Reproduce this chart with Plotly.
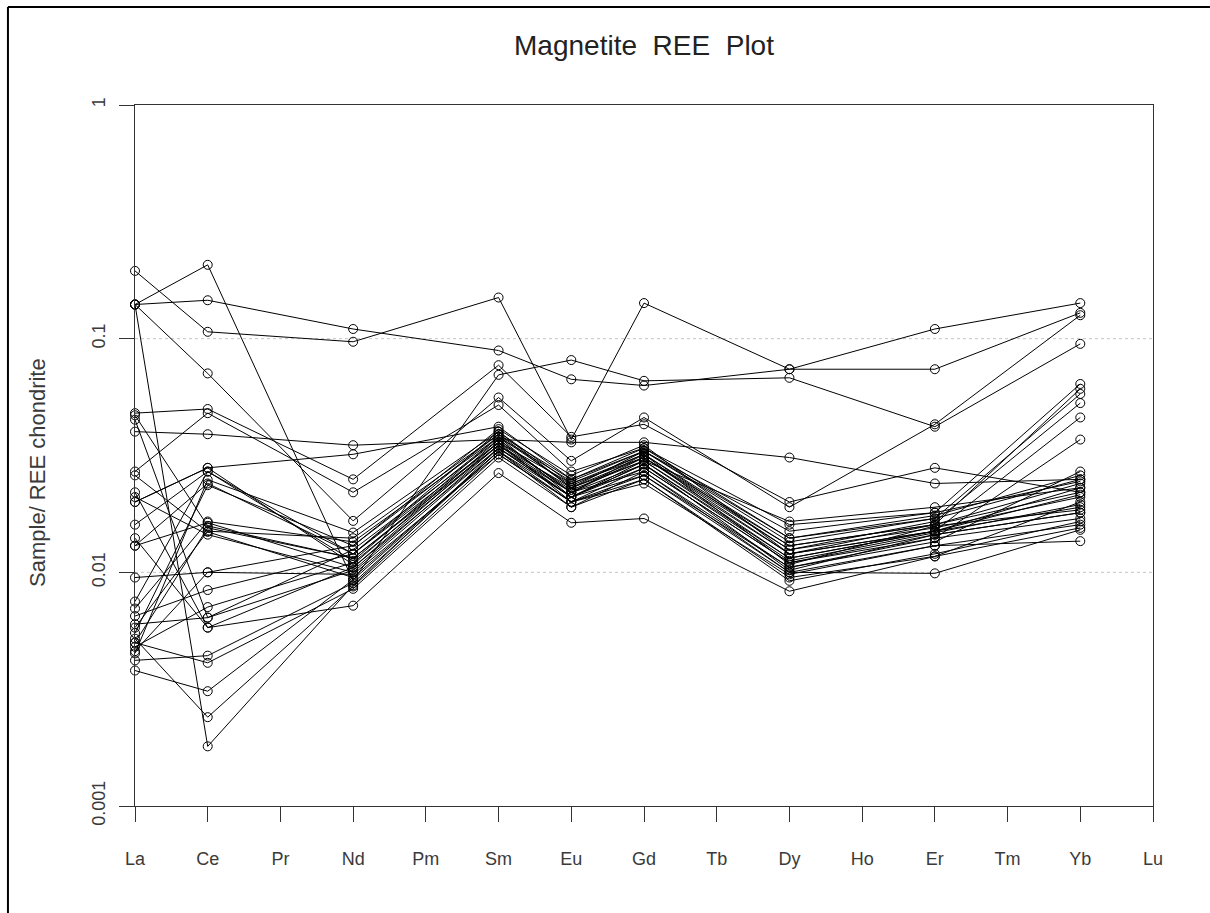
import plotly.graph_objects as go

elements = ["La", "Ce", "Pr", "Nd", "Pm", "Sm", "Eu", "Gd", "Tb", "Dy", "Ho", "Er", "Tm", "Yb", "Lu"]
measured = ["La", "Ce", "Nd", "Sm", "Eu", "Gd", "Dy", "Er", "Yb"]

# Chondrite-normalised values per sample (La, Ce, Nd, Sm, Eu, Gd, Dy, Er, Yb)
s01 = [0.140, 0.146, 0.110, 0.089, 0.067, 0.063, 0.074, 0.110, 0.142]
s02 = [0.195, 0.107, 0.097, 0.150, 0.037, 0.142, 0.074, 0.074, 0.129]
s03 = [0.140, 0.207, 0.0092, 0.070, 0.081, 0.066, 0.068, 0.042, 0.095]
s04 = [0.140, 0.071, 0.0166, 0.056, 0.030, 0.046, 0.019, 0.043, 0.126]
s05 = [0.140, 0.0018, 0.0088, 0.034, 0.022, 0.029, 0.0115, 0.015, 0.019]
s06 = [0.040, 0.039, 0.035, 0.037, 0.036, 0.036, 0.031, 0.024, 0.025]
s07 = [0.048, 0.050, 0.025, 0.077, 0.038, 0.043, 0.020, 0.028, 0.022]
s08 = [0.027, 0.048, 0.022, 0.052, 0.027, 0.034, 0.016, 0.018, 0.064]
s09 = [0.020, 0.028, 0.032, 0.042, 0.025, 0.033, 0.014, 0.017, 0.058]
s10 = [0.0045, 0.0249, 0.0148, 0.040, 0.024, 0.032, 0.013, 0.016, 0.061]
s11 = [0.0055, 0.0236, 0.013, 0.039, 0.023, 0.031, 0.0125, 0.0165, 0.053]
s12 = [0.016, 0.027, 0.012, 0.038, 0.021, 0.030, 0.012, 0.015, 0.046]
s13 = [0.013, 0.0163, 0.0105, 0.036, 0.020, 0.028, 0.011, 0.014, 0.037]
s14 = [0.047, 0.0158, 0.0115, 0.035, 0.022, 0.027, 0.0105, 0.0135, 0.027]
s15 = [0.026, 0.0149, 0.0095, 0.033, 0.019, 0.025, 0.0095, 0.0117, 0.020]
s16 = [0.021, 0.0145, 0.0100, 0.034, 0.021, 0.026, 0.010, 0.0099, 0.0152]
s17 = [0.0095, 0.0100, 0.0098, 0.032, 0.020, 0.024, 0.0098, 0.013, 0.0136]
s18 = [0.0065, 0.0084, 0.0120, 0.036, 0.024, 0.031, 0.012, 0.016, 0.024]
s19 = [0.0048, 0.0071, 0.0110, 0.035, 0.023, 0.030, 0.0115, 0.015, 0.023]
s20 = [0.0060, 0.0064, 0.0125, 0.037, 0.022, 0.032, 0.0125, 0.0155, 0.021]
s21 = [0.014, 0.0058, 0.0105, 0.034, 0.021, 0.028, 0.011, 0.0145, 0.018]
s22 = [0.0042, 0.0044, 0.0090, 0.033, 0.020, 0.026, 0.0105, 0.014, 0.017]
s23 = [0.0050, 0.0041, 0.0085, 0.031, 0.019, 0.027, 0.010, 0.013, 0.016]
s24 = [0.0038, 0.0031, 0.0093, 0.033, 0.021, 0.029, 0.0102, 0.0145, 0.018]
s25 = [0.0052, 0.0024, 0.0087, 0.032, 0.020, 0.025, 0.0092, 0.012, 0.0165]
s26 = [0.022, 0.0058, 0.0072, 0.0266, 0.0163, 0.017, 0.0083, 0.0117, 0.0155]
s27 = [0.0058, 0.0150, 0.0140, 0.039, 0.025, 0.034, 0.0140, 0.0175, 0.026]
s28 = [0.0070, 0.0165, 0.0135, 0.038, 0.0245, 0.033, 0.0135, 0.017, 0.025]
s29 = [0.013, 0.0240, 0.0120, 0.040, 0.023, 0.033, 0.0150, 0.018, 0.0245]
s30 = [0.0050, 0.0155, 0.0115, 0.036, 0.0225, 0.030, 0.0165, 0.0190, 0.023]
s31 = [0.020, 0.0280, 0.0108, 0.037, 0.022, 0.031, 0.0130, 0.0160, 0.022]
s32 = [0.045, 0.0064, 0.0102, 0.035, 0.021, 0.029, 0.0112, 0.0148, 0.0195]
s33 = [0.0046, 0.0100, 0.0130, 0.041, 0.026, 0.035, 0.0120, 0.0150, 0.0215]
s34 = [0.0075, 0.0270, 0.0112, 0.038, 0.0235, 0.032, 0.0108, 0.0158, 0.0185]

samples = [s01, s02, s03, s04, s05, s06, s07, s08, s09, s10, s11, s12, s13, s14, s15, s16, s17,
           s18, s19, s20, s21, s22, s23, s24, s25, s26, s27, s28, s29, s30, s31, s32, s33, s34]

y_ticks = [0.001, 0.01, 0.1, 1]
y_ticktext = ["0.001", "0.01", "0.1", "1"]
grid_levels = [0.1, 0.01]

xpos = [elements.index(e) for e in measured]

fig = go.Figure()
for s in samples:
    fig.add_trace(go.Scatter(
        x=xpos, y=s, mode="lines+markers",
        line=dict(color="black", width=1),
        marker=dict(symbol="circle-open", size=9, color="black", line=dict(width=1)),
        cliponaxis=False, showlegend=False, hoverinfo="skip"))

font_family = "Liberation Sans, Arial, sans-serif"

shapes = []
for g in grid_levels:
    shapes.append(dict(type="line", xref="x", yref="y", x0=0, x1=len(elements) - 1, y0=g, y1=g,
                       line=dict(color="#c4c4c4", width=1, dash="dot"), layer="below"))
# outer frame (top and left border of the image)
shapes.append(dict(type="line", xref="paper", yref="paper", x0=-0.1248, x1=1.06, y0=1.1398, y1=1.1398,
                   line=dict(color="black", width=2)))
shapes.append(dict(type="line", xref="paper", yref="paper", x0=-0.1248, x1=-0.1248, y0=1.1398, y1=-0.16,
                   line=dict(color="black", width=2)))

fig.update_layout(
    width=1210, height=913,
    margin=dict(l=135, r=57, t=105, b=107),
    paper_bgcolor="white", plot_bgcolor="white",
    font=dict(family=font_family, color="#3a3a3a"),
    title=dict(text="Magnetite\u00a0 REE\u00a0 Plot", x=0.5, xref="paper", xanchor="center",
               y=1 - 45 / 913, yref="container", yanchor="middle",
               font=dict(size=28, color="#222", family=font_family)),
    xaxis=dict(range=[0, len(elements) - 1], tickvals=list(range(len(elements))), ticktext=elements,
               showline=True, mirror=True, linecolor="#333", linewidth=1,
               ticks="outside", ticklen=15, tickcolor="#333", tickwidth=1,
               showgrid=False, zeroline=False, ticklabelstandoff=21,
               tickfont=dict(size=18, color="#3a3a3a")),
    yaxis=dict(type="log", range=[-3, 0], tickvals=y_ticks, ticktext=y_ticktext, tickangle=-90,
               showline=True, mirror=True, linecolor="#333", linewidth=1,
               ticks="outside", ticklen=15, tickcolor="#333", tickwidth=1,
               showgrid=False, zeroline=False, ticklabelstandoff=7,
               tickfont=dict(size=18, color="#3a3a3a")),
    shapes=shapes,
    annotations=[dict(text="Sample/ REE chondrite", xref="paper", yref="paper", x=-0.0953, y=0.4765,
                      textangle=-90, showarrow=False, xanchor="center", yanchor="middle",
                      font=dict(size=22, color="#3a3a3a", family=font_family))],
)

fig.write_html("out.html")
